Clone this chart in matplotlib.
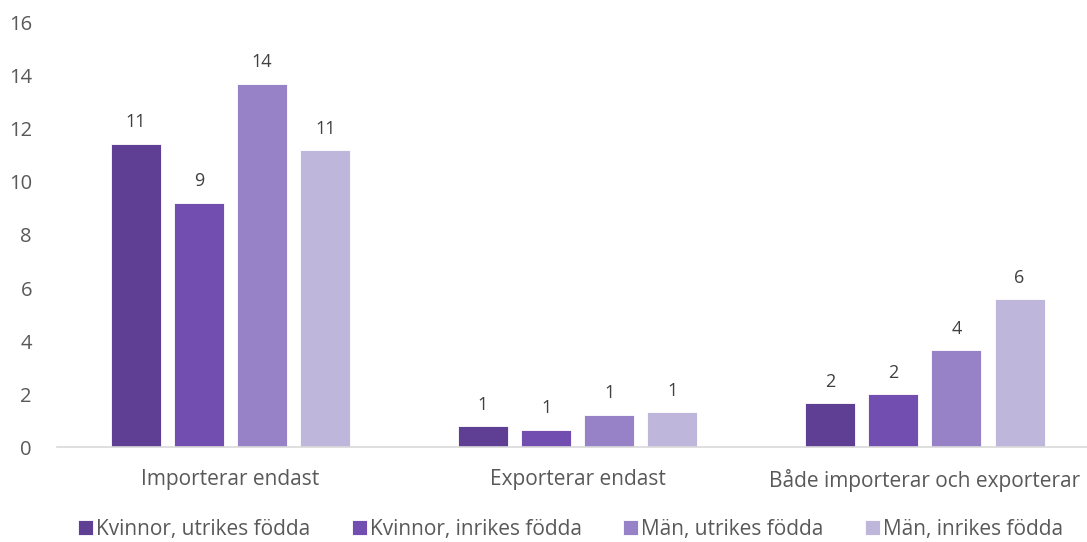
import numpy as np
import matplotlib.pyplot as plt

categories = ['Importerar endast', 'Exporterar endast', 'Både importerar och exporterar']
series_names = ['Kvinnor, utrikes födda', 'Kvinnor, inrikes födda',
                'Män, utrikes födda', 'Män, inrikes födda']
kvinnor_utrikes = [11.43, 0.79, 1.66]
kvinnor_inrikes = [9.22, 0.65, 2.00]
man_utrikes = [13.70, 1.22, 3.65]
man_inrikes = [11.19, 1.32, 5.57]
colors = ['#5E3F93', '#714EB0', '#9781C7', '#BEB6DB']

plt.rcParams['font.family'] = ['Open Sans', 'DejaVu Sans']

fig = plt.figure(figsize=(10.87, 5.42), dpi=100)
ax = fig.add_axes([0.0524, 0.175, 0.958, 0.783])

x = np.arange(len(categories))
width = 0.144
step = 0.182
series = [kvinnor_utrikes, kvinnor_inrikes, man_utrikes, man_inrikes]
for i, (vals, name, col) in enumerate(zip(series, series_names, colors)):
    offs = (i - 1.5) * step
    bars = ax.bar(x + offs, vals, width, color=col, label=name,
                  edgecolor='white', linewidth=0.6)
    for b, v in zip(bars, vals):
        ax.annotate(f"{v:.0f}", (b.get_x() + b.get_width() / 2, v),
                    xytext=(0, 9), textcoords='offset points',
                    ha='center', va='bottom', fontsize=13, color='#404040')

ax.set_xlim(-0.5, 2.5)
ax.set_ylim(0, 16)
ax.set_yticks(range(0, 17, 2))
ax.set_xticks(x)
ax.set_xticklabels(categories)
ax.tick_params(axis='both', length=0, labelsize=15, colors='#595959')
ax.tick_params(axis='y', pad=18, labelsize=14.5)
ax.tick_params(axis='x', pad=16)
for s in ['top', 'right', 'left']:
    ax.spines[s].set_visible(False)
ax.spines['bottom'].set_color('#D9D9D9')
ax.spines['bottom'].set_linewidth(1.2)

fig.legend(loc='lower center', bbox_to_anchor=(0.525, -0.03), ncol=4,
           frameon=False, fontsize=15, handlelength=0.7, handleheight=0.7,
           handletextpad=0.15, columnspacing=2.0, labelcolor='#595959')

fig.savefig('out.png', dpi=100)
